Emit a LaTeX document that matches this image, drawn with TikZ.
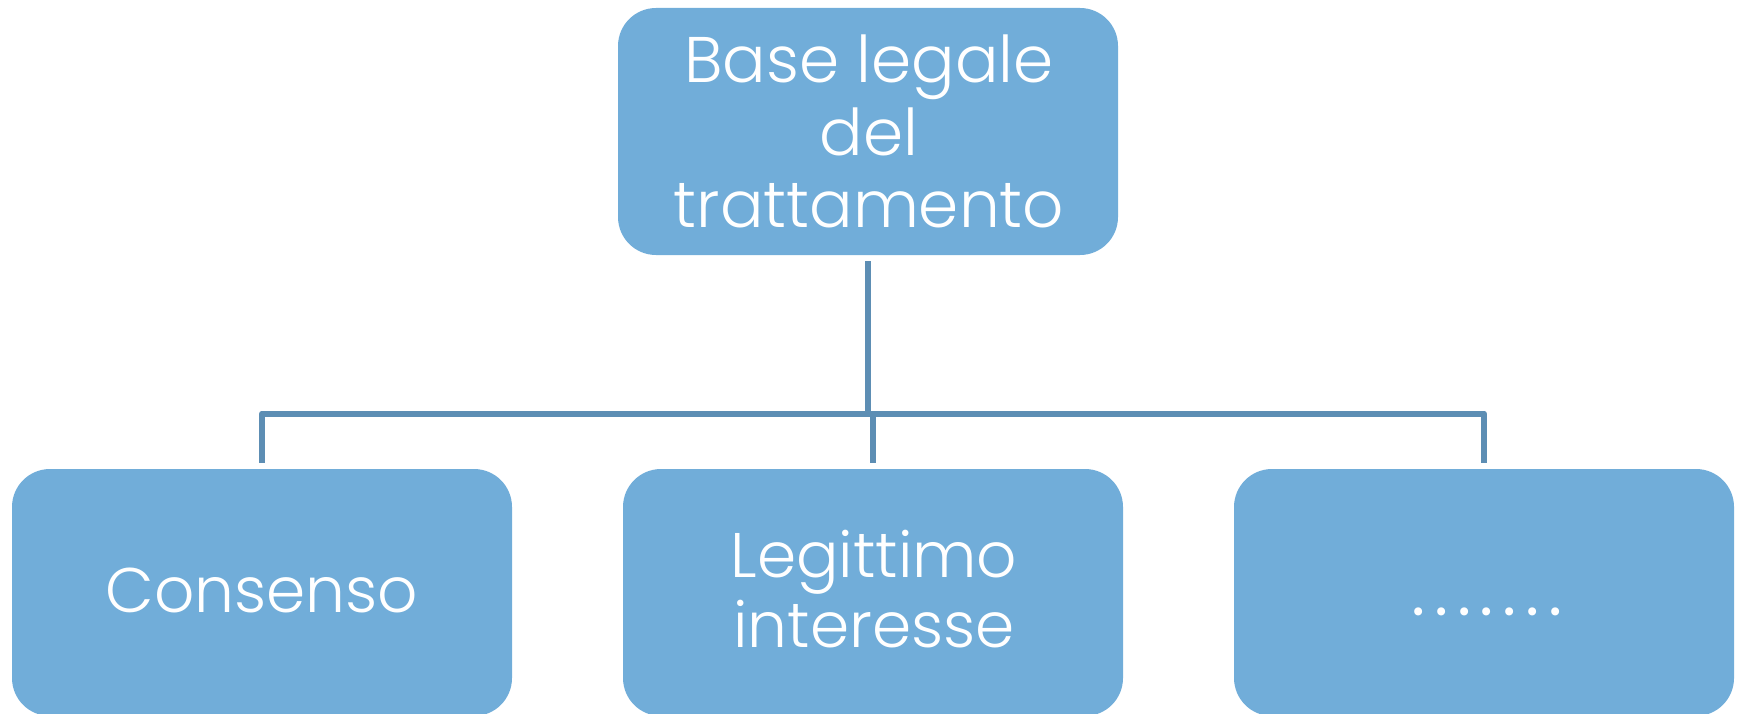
\documentclass[tikz,border=0pt]{standalone}
\usepackage{fontspec}
\setmainfont{Poppins Light}
\definecolor{boxfill}{RGB}{113,173,217}
\definecolor{conncol}{RGB}{93,142,180}
\tikzset{
  box/.style={fill=boxfill, draw=none, rounded corners=38pt, minimum width=500pt, minimum height=247pt, inner sep=0pt},
  conn/.style={draw=conncol, line width=6pt, line join=round},
  toptext/.style={text=white, font=\fontsize{64.5}{72.5}\selectfont, align=center, inner sep=0pt},
  bottext/.style={text=white, font=\fontsize{63}{70}\selectfont, align=center, inner sep=0pt},
  dottext/.style={text=white, font=\fontsize{78}{80}\selectfont, inner sep=0pt},
}
\begin{document}
\begin{tikzpicture}[x=1pt,y=-1pt]
\useasboundingbox (0,0) rectangle (1739,714);
\node[box] (top) at (868,131.5) {};
\node[box] (b1) at (262,592.5) {};
\node[box] (b2) at (873,592.5) {};
\node[box] (b3) at (1484,592.5) {};
\node[toptext] (ttop) at (869,131.5) {Base legale\\del\\trattamento};
\node[bottext] (t1) at (262,590) {Consenso};
\node[bottext] (t2) at (874,589.5) {Legittimo\\interesse};
\node[dottext] (t3) at (1487,612) {\addfontfeature{LetterSpace=11}.......};
\coordinate (hy) at (0,413.5);
\draw[conn] ([yshift=-6pt]top.south) -- (top.south |- hy);
\draw[conn] ([yshift=6pt]b1.north) -- (b1.north |- hy) -- (b3.north |- hy) -- ([yshift=6pt]b3.north);
\draw[conn] (b2.north |- hy) -- ([yshift=6pt]b2.north);
\end{tikzpicture}
\end{document}
